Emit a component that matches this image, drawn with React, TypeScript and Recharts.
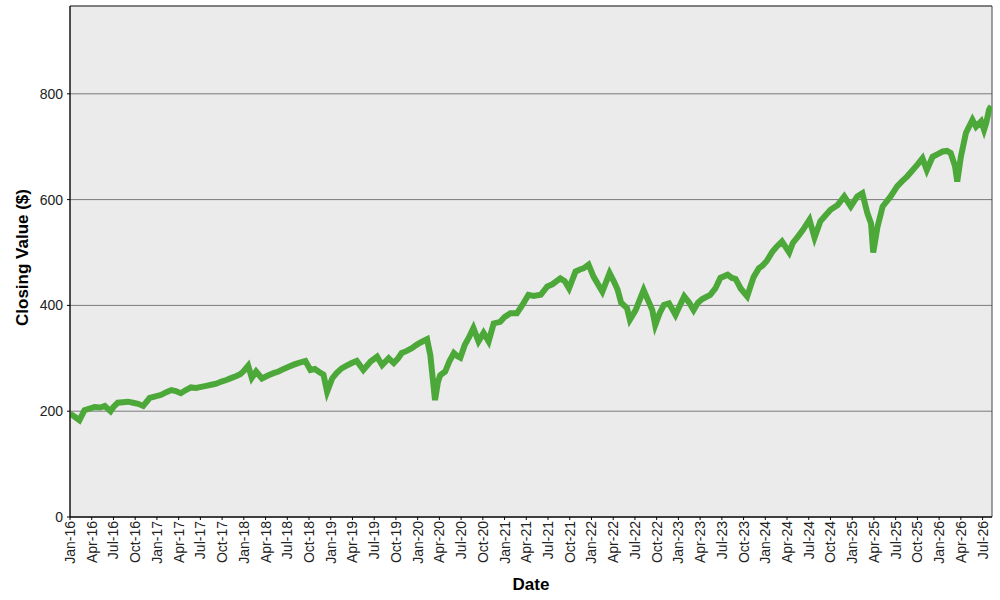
import { CartesianGrid, Label, Line, LineChart, ReferenceArea, XAxis, YAxis } from "recharts";

// month offset from Jan 2016 (fractional = part way through the month)
const months = [
    0.0, 0.6, 1.3, 2.0, 2.7, 3.4, 4.2, 4.8, 5.6, 6.0, 6.6, 7.3, 8.0, 8.7, 9.4, 10.1, 11.0, 11.8,
    12.6, 13.3, 14.0, 14.6, 15.3, 16.0, 16.7, 17.4, 18.1, 18.8, 19.5, 20.2, 20.9, 21.6, 22.3, 22.9,
    23.5, 24.0, 24.6, 25.1, 25.7, 26.5, 27.4, 28.1, 28.8, 29.5, 30.2, 30.9, 31.5, 32.5, 33.2, 33.8,
    34.3, 35.0, 35.5, 36.2, 36.8, 37.5, 38.2, 38.9, 39.6, 40.5, 41.5, 42.4, 43.1, 44.0, 44.7, 45.3,
    45.8, 46.5, 47.2, 47.8, 48.4, 49.3, 49.75, 50.1, 50.4, 50.8, 51.1, 51.8, 52.4, 53.0, 53.5, 53.9,
    54.5, 55.1, 55.7, 56.4, 57.1, 57.8, 58.5, 59.4, 60.0, 60.8, 61.7, 62.6, 63.3, 64.0, 65.0, 65.9,
    66.6, 67.7, 68.3, 68.9, 69.8, 70.4, 70.9, 71.6, 72.3, 72.9, 73.5, 74.5, 75.1, 75.6, 76.1, 76.9,
    77.3, 78.1, 78.7, 79.2, 79.8, 80.4, 80.8, 81.4, 82.0, 82.7, 83.6, 84.2, 84.8, 85.5, 86.1, 86.7,
    87.3, 88.4, 89.1, 89.8, 90.8, 91.4, 91.9, 92.6, 93.5, 94.0, 94.4, 95.1, 95.6, 96.2, 97.0, 97.5,
    98.3, 99.3, 99.8, 100.5, 101.2, 102.1, 102.8, 103.6, 104.3, 105.0, 106.0, 106.9, 107.8, 108.7,
    109.4, 110.1, 110.6, 110.9, 111.5, 112.2, 113.3, 114.2, 114.9, 115.6, 116.3, 117.0, 117.7, 118.3,
    119.1, 119.8, 120.5, 121.1, 121.6, 122.2, 122.5, 123.0, 123.7, 124.6, 125.1, 125.8, 126.2, 126.5,
    126.9, 127.2,
];

const closes = [
    195, 190, 183, 202, 205, 208, 207, 210, 200, 208, 216, 217, 218, 216, 214, 210, 225, 228,
    231, 236, 240, 238, 234, 240, 245, 244, 246, 248, 250, 252, 256, 259, 263, 266,
    270, 276, 286, 263, 275, 262, 268, 272, 275, 280, 284, 288, 291, 295, 278, 280,
    275, 269, 237, 262, 272, 281, 286, 291, 295, 278, 294, 303, 287, 300, 291, 300,
    310, 314, 319, 325, 330, 336, 306, 260, 221, 255, 268, 275, 295, 310, 304, 301,
    325, 340, 357, 332, 348, 332, 366, 369, 378, 385, 385, 404, 420, 418, 420, 436,
    440, 451, 446, 432, 464, 468, 470, 477, 454, 440, 426, 461, 445, 430, 405, 395,
    373, 391, 412, 429, 410, 391, 363, 385, 401, 404, 382, 400, 417, 405, 391, 405,
    412, 420, 432, 452, 458, 452, 450, 432, 417, 438, 454, 470, 475, 484, 502, 510,
    521, 500, 518, 530, 543, 562, 528, 559, 570, 581, 590, 606, 587, 606,
    612, 574, 555, 500, 549, 587, 606, 625, 635, 644, 655, 666, 678, 656,
    681, 686, 691, 692, 688, 663, 634, 681, 726, 751, 738, 748, 732, 745,
    770, 777,
];

const tickYears = [16, 17, 18, 19, 20, 21, 22, 23, 24, 25, 26];
const tickMonths = ["Jan", "Apr", "Jul", "Oct"];
const valueTicks = [0, 200, 400, 600, 800];

const X_MAX = 127.3;
const Y_MAX = 966;

const data = months.map((m, i) => ({ m, close: closes[i] }));

const dateTicks: number[] = [];
tickYears.forEach((yr, yi) => {
    tickMonths.forEach((_, qi) => {
        const t = yi * 12 + qi * 3;
        if (t <= X_MAX) dateTicks.push(t);
    });
});

const tickLabel = (t: number) => {
    const yr = tickYears[Math.floor(t / 12)];
    const mo = tickMonths[Math.round((t % 12) / 3)];
    return `${mo}-${yr}`;
};

const font = "'Liberation Sans', Arial, sans-serif";

function DateTick(props: any) {
    const { x, y, payload } = props;
    return (
        <text
            x={x}
            y={y}
            dy={5}
            transform={`rotate(-90 ${x} ${y})`}
            textAnchor="end"
            fontSize={14}
            fontFamily={font}
            fill="#222"
        >
            {tickLabel(payload.value)}
        </text>
    );
}

export default function App() {
    return (
        <div style={{ position: "absolute", left: 0, top: 0, width: 1000, height: 600, background: "#fff" }}>
            <LineChart width={1000} height={600} data={data} margin={{ top: 6, right: 8, left: 0, bottom: 0 }}>
                <CartesianGrid vertical={false} fill="#EBEBEB" stroke="#7a7a7a" strokeWidth={1} />
                <XAxis
                    dataKey="m"
                    type="number"
                    domain={[0, X_MAX]}
                    ticks={dateTicks}
                    interval={0}
                    height={83}
                    tickSize={3}
                    tickMargin={1}
                    tick={<DateTick />}
                    axisLine={{ stroke: "#000" }}
                    tickLine={{ stroke: "#000" }}
                    allowDataOverflow
                >
                    <Label
                        value="Date"
                        position="insideBottom"
                        offset={10}
                        style={{ fontFamily: font, fontSize: 17, fontWeight: "bold", fill: "#000" }}
                    />
                </XAxis>
                <YAxis
                    type="number"
                    domain={[0, Y_MAX]}
                    ticks={valueTicks}
                    width={70}
                    tickSize={3}
                    tickMargin={4}
                    axisLine={{ stroke: "#000" }}
                    tickLine={{ stroke: "#000" }}
                    tick={{ fontSize: 14, fontFamily: font, fill: "#222" }}
                    allowDataOverflow
                >
                    <Label
                        value="Closing Value ($)"
                        angle={-90}
                        position="insideLeft"
                        offset={22}
                        dy={-4}
                        style={{ fontFamily: font, fontSize: 17, fontWeight: "bold", fill: "#000", textAnchor: "middle" }}
                    />
                </YAxis>
                <ReferenceArea x1={0} x2={X_MAX} y1={0} y2={Y_MAX} fill="none" stroke="#444" strokeWidth={1} />
                <Line
                    type="linear"
                    dataKey="close"
                    stroke="#4DA83A"
                    strokeWidth={6}
                    dot={false}
                    isAnimationActive={false}
                />
            </LineChart>
        </div>
    );
}
